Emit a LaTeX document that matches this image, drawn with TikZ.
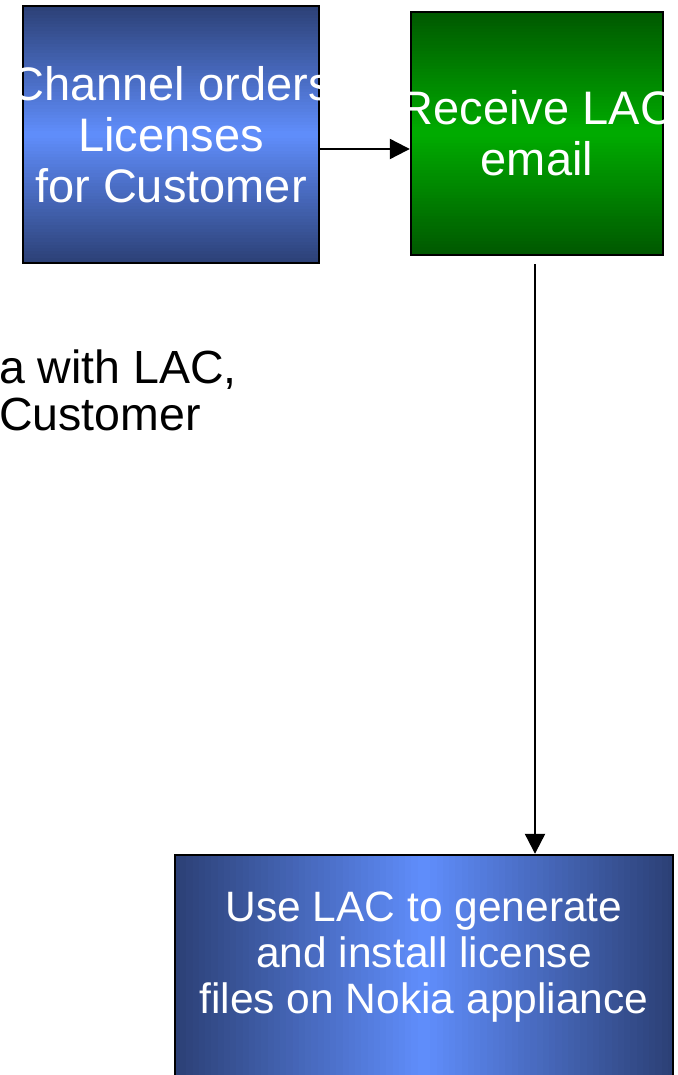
\documentclass[tikz,border=0pt]{standalone}
\usepackage{fontspec}
\setmainfont{Liberation Sans}
\usetikzlibrary{arrows.meta,calc,backgrounds}
\definecolor{navydark}{RGB}{44,64,118}
\definecolor{navylight}{RGB}{96,142,252}
\definecolor{greendark}{RGB}{0,88,0}
\definecolor{greenlight}{RGB}{0,172,0}
\tikzset{
  box/.style={draw=black,line width=2.4pt,inner sep=0pt},
  boxtext/.style={text=white,align=center,inner sep=0pt},
  flow/.style={line width=2.2pt,-{Triangle[length=20pt,width=20pt]}}
}
\begin{document}
\begin{tikzpicture}[x=1pt,y=1pt]
  \useasboundingbox (0,0) rectangle (677,-1075);
  \clip (0,0) rectangle (677,-1075);
  % boxes
  \node[box,minimum width=296pt,minimum height=257pt] (order) at (171,-134.5) {};
  \node[box,minimum width=252pt,minimum height=243pt] (rcv) at (537,-133.5) {};
  \node[box,minimum width=498pt,minimum height=240pt] (use) at (424,-975) {};
  % gradients, dark at the edges and light in the middle
  \begin{scope}[on background layer]
    \foreach \i in {0,...,79} {
      \pgfmathsetmacro{\p}{100*(1-abs(\i-39.5)/39.5)}
      \pgfmathsetmacro{\q}{min(1,(\i+2)/80)}
      \fill[navylight!\p!navydark]
        ($(order.north west)!{\i/80}!(order.south west)$) rectangle
        ($(order.north east)!{\q}!(order.south east)$);
      \fill[greenlight!\p!greendark]
        ($(rcv.north west)!{\i/80}!(rcv.south west)$) rectangle
        ($(rcv.north east)!{\q}!(rcv.south east)$);
      \fill[navylight!\p!navydark]
        ($(use.north west)!{\i/80}!(use.north east)$) rectangle
        ($(use.south west)!{\q}!(use.south east)$);
    }
  \end{scope}
  % box texts, cut at the box edges
  \begin{scope}
    \clip (order.south west) rectangle (order.north east);
    \node[boxtext,font=\fontsize{47}{51}\selectfont] (ordertext) at (order)
      {Channel orders\\Licenses\\for Customer};
  \end{scope}
  \begin{scope}
    \clip (rcv.south west) rectangle (rcv.north east);
    \node[boxtext,font=\fontsize{47}{51}\selectfont] (rcvtext) at (rcv)
      {Receive LAC\\email};
  \end{scope}
  \node[boxtext,font=\fontsize{42.5}{46}\selectfont] (usetext) at ([yshift=18pt]use)
    {Use LAC to generate\\and install license\\files on Nokia appliance};
  % text cut off at the left edge
  \node[anchor=north west,align=left,inner sep=0pt,font=\fontsize{46.5}{47}\selectfont]
    (note) at (-1,-350) {a with LAC,\\Customer};
  % connectors
  \draw[flow] ([yshift=-14.5pt]order.east) -- ([yshift=-14.5pt]order.east -| rcv.west);
  \draw[flow] ([xshift=-2pt,yshift=-8pt]rcv.south) -- ([xshift=-2pt]rcv.south |- use.north);
\end{tikzpicture}
\end{document}
